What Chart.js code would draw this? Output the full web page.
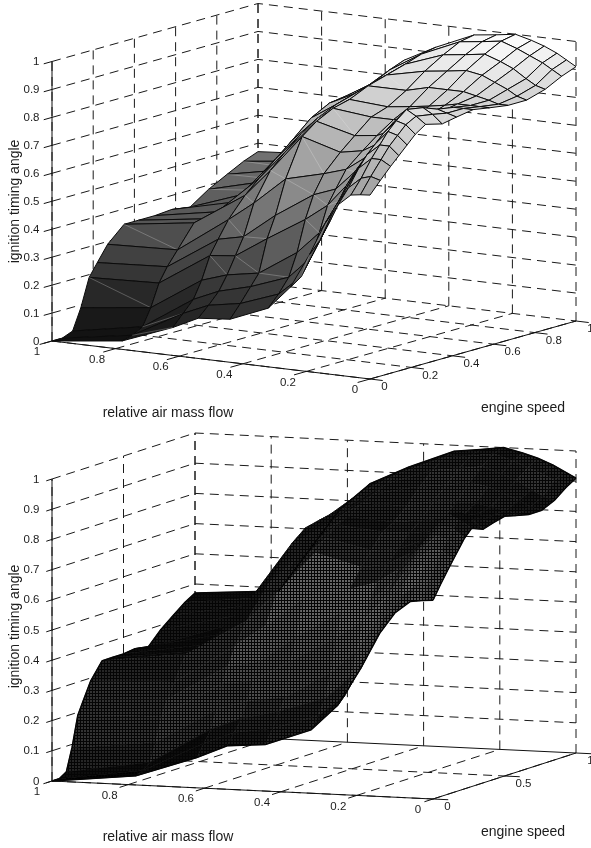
<!DOCTYPE html>
<html><head><meta charset="utf-8">
<style>html,body{margin:0;padding:0;background:#fff}canvas{position:absolute;left:0}</style>
<script src="https://cdn.jsdelivr.net/npm/chart.js@4"></script>
</head><body>
<canvas id="top" width="591" height="424" style="top:0"></canvas>
<canvas id="bottom" width="591" height="424" style="top:424px"></canvas>
<script>
const airGrid=[1,.78,.62,.54,.44,.32,.25,.19,.14,.10,.06,.03,0];
const speedGrid=[0,.05,.1,.14,.18,.22,.27,.35,.42,.5,.58,.67,.76,.85,.93,1];
const ignitionAngle=[
[0,.03,.10,.144,.154,.21,.295,.42,.54,.61,.65,.655,.658],
[0,.04,.14,.18,.2,.25,.32,.46,.59,.66,.7,.71,.70],
[.015,.06,.18,.22,.25,.30,.38,.52,.64,.72,.76,.76,.74],
[.09,.12,.24,.27,.29,.38,.46,.58,.68,.76,.8,.8,.77],
[.19,.2,.32,.33,.405,.49,.55,.63,.72,.79,.84,.83,.80],
[.235,.25,.37,.39,.48,.57,.6,.67,.75,.82,.87,.86,.83],
[.29,.30,.43,.5,.6,.635,.66,.71,.78,.85,.9,.88,.855],
[.345,.38,.5,.6,.735,.695,.71,.75,.8,.85,.89,.87,.84],
[.345,.38,.547,.65,.775,.74,.75,.78,.81,.84,.87,.86,.85],
[.345,.39,.6,.70,.805,.79,.79,.8,.82,.84,.86,.86,.86],
[.35,.41,.65,.74,.82,.81,.82,.83,.84,.85,.85,.85,.85],
[.34,.43,.71,.77,.85,.85,.87,.87,.87,.86,.85,.84,.84],
[.385,.45,.745,.79,.87,.9,.91,.92,.91,.89,.87,.85,.84],
[.42,.47,.755,.81,.89,.94,.95,.96,.94,.92,.89,.87,.86],
[.45,.48,.763,.84,.91,.97,.98,.99,.97,.95,.93,.91,.89],
[.47,.49,.77,.86,.92,.98,.99,1.0,.985,.97,.95,.93,.91]];
const zTicks=[0,.1,.2,.3,.4,.5,.6,.7,.8,.9,1];
const airTicks=[1,.8,.6,.4,.2,0];
const speedTicksTop=[0,.2,.4,.6,.8,1];
const speedTicksBottom=[0,.5,1];
const xTitle='relative air mass flow', yTitle='ignition timing angle', sTitle='engine speed';

function panelChart(id,P){
  const pr=(a,s,z)=>({x:P.A[0]+(1-a)*(P.B[0]-P.A[0])+s*(P.C[0]-P.B[0]),
                      y:P.A[1]+(1-a)*(P.B[1]-P.A[1])+s*(P.C[1]-P.B[1])-z*P.zPx});
  const line=(pts,o)=>Object.assign({type:'scatter',data:pts,showLine:true,pointRadius:0,borderColor:'#111',borderWidth:1,fill:false,tension:0,clip:false},o||{});
  const dash={borderDash:[9,6],borderColor:'#1a1a1a',borderWidth:1};
  const back=[];
  for(const s of P.speedTicks){back.push(line([pr(1,s,0),pr(1,s,1)],dash));back.push(line([pr(1,s,0),pr(0,s,0)],s===1&&P.solidBack?{}:dash));}
  for(const a of airTicks){back.push(line([pr(a,1,0),pr(a,1,1)],dash));back.push(line([pr(a,0,0),pr(a,1,0)],dash));}
  for(const z of zTicks){ if(z===0)continue; back.push(line([pr(1,0,z),pr(1,1,z),pr(0,1,z)],dash));}
  const surf=[];
  const gray=v=>{const g=Math.round(255*Math.min(1,Math.max(0,v)));return `rgb(${g},${g},${g})`;};
  const patterns={};
  const meshPattern=v=>{
    const k=Math.round(v*20);
    if(patterns[k])return patterns[k];
    const c=document.createElement('canvas');c.width=3;c.height=3;
    const x=c.getContext('2d');x.fillStyle='#050505';x.fillRect(0,0,3,3);
    x.fillStyle=gray(k/20);x.fillRect(0,0,2,2);
    return patterns[k]=document.getElementById(id).getContext('2d').createPattern(c,'repeat');
  };
  const Z=ignitionAngle;
  for(let j=speedGrid.length-2;j>=0;j--)for(let i=0;i<airGrid.length-1;i++){
    const a0=airGrid[i],a1=airGrid[i+1],s0=speedGrid[j],s1=speedGrid[j+1];
    const p00=pr(a0,s0,Z[j][i]),p10=pr(a1,s0,Z[j][i+1]),p11=pr(a1,s1,Z[j+1][i+1]),p01=pr(a0,s1,Z[j+1][i]);
    const m=(Z[j][i]+Z[j][i+1]+Z[j+1][i+1]+Z[j+1][i])/4;
    const pts=[p00,p10,p11,p01,p00];
    if(P.mesh){
      const ds=Math.hypot((p01.x+p11.x-p00.x-p10.x)/2,(p01.y+p11.y-p00.y-p10.y)/2)/(s1-s0);
      const da=Math.hypot((p10.x+p11.x-p00.x-p01.x)/2,(p10.y+p11.y-p00.y-p01.y)/2)/(a0-a1);
      const rowF=Math.min(1,ds*.0056/2.7),colF=Math.min(1,da*.008/2.7);
      const pat=meshPattern((.12+.5*m)*Math.pow(rowF,1.6)*colF);
      surf.push(line(pts,{fill:'shape',backgroundColor:pat,borderColor:pat,borderWidth:.7}));
    }else{
      surf.push(line(pts,{fill:'shape',backgroundColor:gray(.06+.94*Math.pow(m,1.2)),borderColor:'#0a0a0a',borderWidth:1}));
      const twist=Math.abs(Z[j][i]+Z[j+1][i+1]-Z[j][i+1]-Z[j+1][i]);
      if(twist>.015)surf.push(line([p01,p10],{borderColor:'rgba(235,235,235,.45)',borderWidth:.6}));
    }
  }
  if(P.mesh){
    const dark={borderColor:'#050505',borderWidth:1.4};
    surf.push(line(airGrid.map((a,i)=>pr(a,0,Z[0][i])),dark));
    surf.push(line(airGrid.map((a,i)=>pr(a,1,Z[speedGrid.length-1][i])),dark));
    surf.push(line(speedGrid.map((s,j)=>pr(1,s,Z[j][0])),dark));
    surf.push(line(speedGrid.map((s,j)=>pr(0,s,Z[j][airGrid.length-1])),dark));
  }
  const axes=[line([pr(1,0,0),pr(1,0,1)]),line([pr(1,0,0),pr(0,0,0),pr(0,1,0)])];
  const tk=[];
  for(const z of zTicks)tk.push(line([pr(1,0,z),pr(1,-.04,z)]));
  for(const a of airTicks)tk.push(line([pr(a,0,0),pr(a,-.06,0)]));
  for(const s of P.speedTicks)tk.push(line([pr(0,s,0),pr(-.04,s,0)]));
  const order=[...back,...surf,...axes,...tk].reverse();
  const labels={id:'panelLabels',afterDraw(ch){
    const c=ch.ctx,X=ch.scales.x,Y=ch.scales.y;
    const put=(t,x,y,al)=>{c.textAlign=al;c.fillText(t,X.getPixelForValue(x),Y.getPixelForValue(y));};
    c.save();c.fillStyle='#1c1c1c';c.textBaseline='middle';c.font='11.5px "Liberation Sans"';
    for(const z of zTicks){const p=pr(1,0,z);put(String(z),p.x-12.5,p.y+.5,'right');}
    for(const a of airTicks){const p=pr(a,0,0);put(String(a),p.x-(String(a).length>1?18.5:15),p.y+11,'center');}
    for(const s of P.speedTicks){const p=pr(0,s,0);put(String(s),p.x+(String(s).length>1?19:14.5),p.y+8,'center');}
    c.font='14px "Liberation Sans"';
    put(xTitle,168,P.xTitleY,'center');put(sTitle,523,P.sTitleY,'center');
    c.translate(X.getPixelForValue(15),Y.getPixelForValue(P.yTitleY));c.rotate(-Math.PI/2);c.textAlign='center';c.fillText(yTitle,0,0);
    c.restore();
  }};
  return new Chart(document.getElementById(id),{type:'scatter',data:{datasets:order},plugins:[labels],
    options:{responsive:false,animation:false,events:[],layout:{padding:0},
      plugins:{legend:{display:false},tooltip:{enabled:false}},
      scales:{x:{type:'linear',min:0,max:591,display:false},y:{type:'linear',min:P.y0,max:P.y0+424,reverse:true,display:false}}}});
}
panelChart('top',{A:[52,341],B:[370,379],C:[576,321],zPx:279.5,speedTicks:speedTicksTop,y0:0,xTitleY:413,sTitleY:408,yTitleY:201.5,mesh:false,solidBack:false});
panelChart('bottom',{A:[52,781],B:[433,799],C:[576,753],zPx:302,speedTicks:speedTicksBottom,y0:424,xTitleY:837,sTitleY:832,yTitleY:626.5,mesh:true,solidBack:true});
</script>
</body></html>
